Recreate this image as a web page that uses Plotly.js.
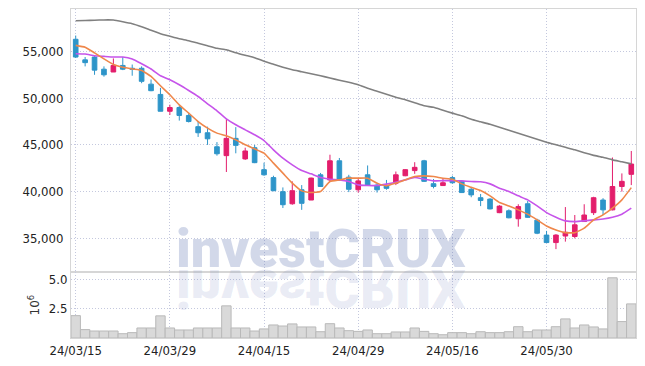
<!DOCTYPE html>
<html>
<head>
<meta charset="utf-8">
<script src="https://cdn.plot.ly/plotly-3.0.1.min.js"></script>
<style>
html,body{margin:0;padding:0;background:#fff;}
#chart{width:645px;height:366px;}
</style>
</head>
<body>
<div id="chart"></div>
<script>
// Trading days (category axis)
const dates = ['24/03/15','24/03/18','24/03/19','24/03/20','24/03/21','24/03/22','24/03/25','24/03/26','24/03/27','24/03/28',
'24/03/29','24/04/01','24/04/02','24/04/03','24/04/04','24/04/05','24/04/08','24/04/09','24/04/11','24/04/12',
'24/04/15','24/04/16','24/04/17','24/04/18','24/04/19','24/04/22','24/04/23','24/04/24','24/04/25','24/04/26',
'24/04/29','24/04/30','24/05/02','24/05/03','24/05/07','24/05/08','24/05/09','24/05/10','24/05/13','24/05/14',
'24/05/16','24/05/17','24/05/20','24/05/21','24/05/22','24/05/23','24/05/24','24/05/27','24/05/28','24/05/29',
'24/05/30','24/05/31','24/06/03','24/06/04','24/06/05','24/06/07','24/06/10','24/06/11','24/06/12','24/06/13'];

const openP = [56300,54100,54400,53100,52800,53500,53200,53200,51500,50400,
48600,49000,48150,46950,46300,44800,43850,45700,43500,44700,
42350,41500,40000,38700,40200,39100,41800,41250,43300,41550,
40200,41800,40700,40600,40900,41700,42250,43300,40850,40650,
41500,41100,40250,39350,39200,37750,37950,37100,38700,36950,
35350,34550,35250,35200,36800,37750,39100,38050,40550,41850];
const highP = [56700,54400,54500,53400,54250,54400,53600,53400,52000,51100,
49300,49200,48400,47550,46950,45300,47750,46900,44700,45000,
43100,41700,40450,41100,40700,41500,42000,43950,43600,41800,
41450,42800,40950,41250,42150,42400,43150,43400,41350,41450,
41700,41150,40400,39750,39300,38550,38100,38650,39000,37100,
35800,35450,38350,37500,38650,39450,39300,43650,41950,44350];
const lowP = [54300,53400,52500,52300,52800,53000,52400,51600,50750,48600,
48200,47600,47400,45850,45000,43850,42100,44100,43400,43050,
41700,40050,38250,38600,38050,39100,40500,41150,41150,39950,
39900,40600,39900,40200,40700,41650,41900,41050,40350,40600,
40850,39850,39400,38450,38100,37700,37150,36250,37200,35450,
34500,33850,34650,35000,36750,37500,37500,38000,40000,40700];
const closeP = [54400,53800,53000,52500,53500,53100,53100,51800,50800,48600,
49000,48150,47500,46300,45650,44050,45700,44950,44350,43100,
41800,40100,38600,40100,38750,41450,40550,43300,41250,40250,
41150,40700,40200,40350,41800,42350,42600,41100,40550,40950,
40950,39900,39650,39050,38150,38450,37200,38400,37250,35550,
34550,35350,35650,36450,37500,39350,38050,40550,41100,42950];

// Moving average lines
const maShort = [55650,55450,54850,54200,53600,53300,53120,52970,52320,51330,
50360,49290,48400,47500,46800,46260,45970,45540,45010,44580,
44120,43050,41980,40910,40080,39900,40010,41080,41260,41440,
41440,41440,40910,40620,40910,41260,41610,41690,41610,41440,
41330,40830,40470,40110,39550,38830,38470,38050,37590,36980,
36330,35900,35610,35610,36090,36980,37510,38230,39120,40430];
const maMid = [54750,54720,54540,54470,54400,54400,54190,53680,53120,52400,
51970,51430,50820,50180,49400,48650,47790,47150,46610,46080,
45470,44470,43580,42870,42260,41900,41510,41330,41260,41080,
40720,40650,40650,40800,41010,41260,41510,41330,41150,41180,
41180,41150,41080,41050,40830,40370,40010,39550,39120,38470,
37760,37260,36870,36790,36870,36980,37080,37260,37590,38230];
const maLong = [58290,58310,58340,58370,58360,58180,57970,57650,57270,56900,
56630,56360,56150,55880,55610,55340,55180,54860,54590,54330,
53950,53630,53310,53040,52830,52610,52400,52150,51920,51700,
51430,51060,50740,50420,50100,49830,49510,49180,49020,48700,
48400,48120,47740,47470,47200,46880,46560,46240,45920,45600,
45280,45010,44740,44470,44150,43880,43670,43400,43190,42970];

// Volume in millions (axis title 10^6)
const volume = [1.92,0.72,0.60,0.60,0.60,0.37,0.46,0.86,0.86,1.90,
0.86,0.69,0.69,0.86,0.86,0.86,2.76,0.86,0.86,0.60,
0.78,1.12,1.03,1.21,0.95,0.95,0.54,1.23,0.86,0.63,
0.57,0.69,0.37,0.37,0.52,0.52,0.86,0.57,0.37,0.28,
0.46,0.46,0.37,0.54,0.46,0.46,0.54,0.97,0.54,0.69,
0.69,0.97,1.64,0.86,1.12,0.95,0.78,5.17,1.41,2.93];

const xTickLabels = ['24/03/15','24/03/29','24/04/15','24/04/29','24/05/16','24/05/30'];
const priceTicks = [35000,40000,45000,50000,55000];
const volTicks = [2.5,5.0];
const watermark = 'investCRUX';

const tickFont = {family:'"DejaVu Sans Condensed","Liberation Sans Narrow","DejaVu Sans",sans-serif', size:13, color:'#222'};
const gridCol = '#c4c8de';
const gridDash = '1px,2px';
const borderCol = '#d6d6d6';

const traces = [
  {type:'candlestick', x:dates, open:openP, high:highP, low:lowP, close:closeP,
   xaxis:'x', yaxis:'y',
   increasing:{line:{color:'#e31e6c', width:1}, fillcolor:'#e31e6c'},
   decreasing:{line:{color:'#2e95c9', width:1}, fillcolor:'#2e95c9'},
   whiskerwidth:0, hoverinfo:'skip', showlegend:false},
  {type:'scatter', mode:'lines', x:dates, y:maLong, xaxis:'x', yaxis:'y',
   line:{color:'#808080', width:1.6, shape:'spline', smoothing:0.4}, hoverinfo:'skip', showlegend:false},
  {type:'scatter', mode:'lines', x:dates, y:maMid, xaxis:'x', yaxis:'y',
   line:{color:'#c654ea', width:1.6, shape:'spline', smoothing:0.4}, hoverinfo:'skip', showlegend:false},
  {type:'scatter', mode:'lines', x:dates, y:maShort, xaxis:'x', yaxis:'y',
   line:{color:'#ef874b', width:1.6, shape:'spline', smoothing:0.4}, hoverinfo:'skip', showlegend:false},
  {type:'bar', x:dates, y:volume, xaxis:'x', yaxis:'y2',
   marker:{color:'#d9d9d9', line:{color:'#b9b9b9', width:1}}, hoverinfo:'skip', showlegend:false}
];

const layout = {
  width:645, height:366,
  margin:{l:71, r:9, t:9, b:28, pad:0},
  paper_bgcolor:'#fff', plot_bgcolor:'#fff',
  showlegend:false, bargap:0,
  font:tickFont,
  xaxis:{type:'category', anchor:'y2', domain:[0,1], range:[-0.5, dates.length-0.5],
    rangeslider:{visible:false},
    tickmode:'array', tickvals:xTickLabels, ticktext:xTickLabels,
    showgrid:true, gridcolor:gridCol, griddash:gridDash, gridwidth:1,
    showline:true, linecolor:borderCol, linewidth:1, mirror:'all',
    ticks:'', tickfont:tickFont, zeroline:false},
  yaxis:{domain:[0.2,1], range:[31380,59540], anchor:'x',
    tickmode:'array', tickvals:priceTicks, tickformat:',d',
    showgrid:true, gridcolor:gridCol, griddash:gridDash, gridwidth:1,
    showline:true, linecolor:borderCol, linewidth:1, mirror:true,
    ticks:'', ticklabelstandoff:4, tickfont:tickFont, zeroline:false},
  yaxis2:{domain:[0,0.2], range:[0,5.65], anchor:'x',
    tickmode:'array', tickvals:volTicks, tickformat:'.1f',
    showgrid:true, gridcolor:gridCol, griddash:gridDash, gridwidth:1,
    showline:true, linecolor:borderCol, linewidth:1, mirror:true,
    ticks:'', tickfont:tickFont, zeroline:false,
    title:{text:'10<sup>6</sup>', font:{family:'"DejaVu Sans",sans-serif', size:12, color:'#333'}, standoff:6}},
  annotations:[
    {text:watermark, xref:'paper', yref:'paper', x:0.443, y:0.171, xanchor:'center', yanchor:'bottom',
     showarrow:false, font:{family:'Roboto, "Liberation Sans", sans-serif', size:54, weight:900, color:'rgba(90,110,175,0.27)'}},
    {text:watermark, xref:'paper', yref:'paper', x:0.443, y:0.171, xanchor:'center', yanchor:'bottom',
     showarrow:false, font:{family:'Roboto, "Liberation Sans", sans-serif', size:54, weight:900, color:'rgba(90,110,175,0.13)'}}
  ]
};

Plotly.newPlot('chart', traces, layout, {displayModeBar:false, staticPlot:true}).then(function(gd){
  const anns = gd.querySelectorAll('g.annotation');
  if (anns.length > 1) {
    const t = anns[1].querySelector('text');
    if (t) {
      const yb = parseFloat(t.getAttribute('y')) || 0;
      const prev = t.getAttribute('transform') || '';
      t.setAttribute('transform', prev + ' translate(0,' + (2*yb + 3) + ') scale(1,-1)');
    }
  }
});
</script>
</body>
</html>
